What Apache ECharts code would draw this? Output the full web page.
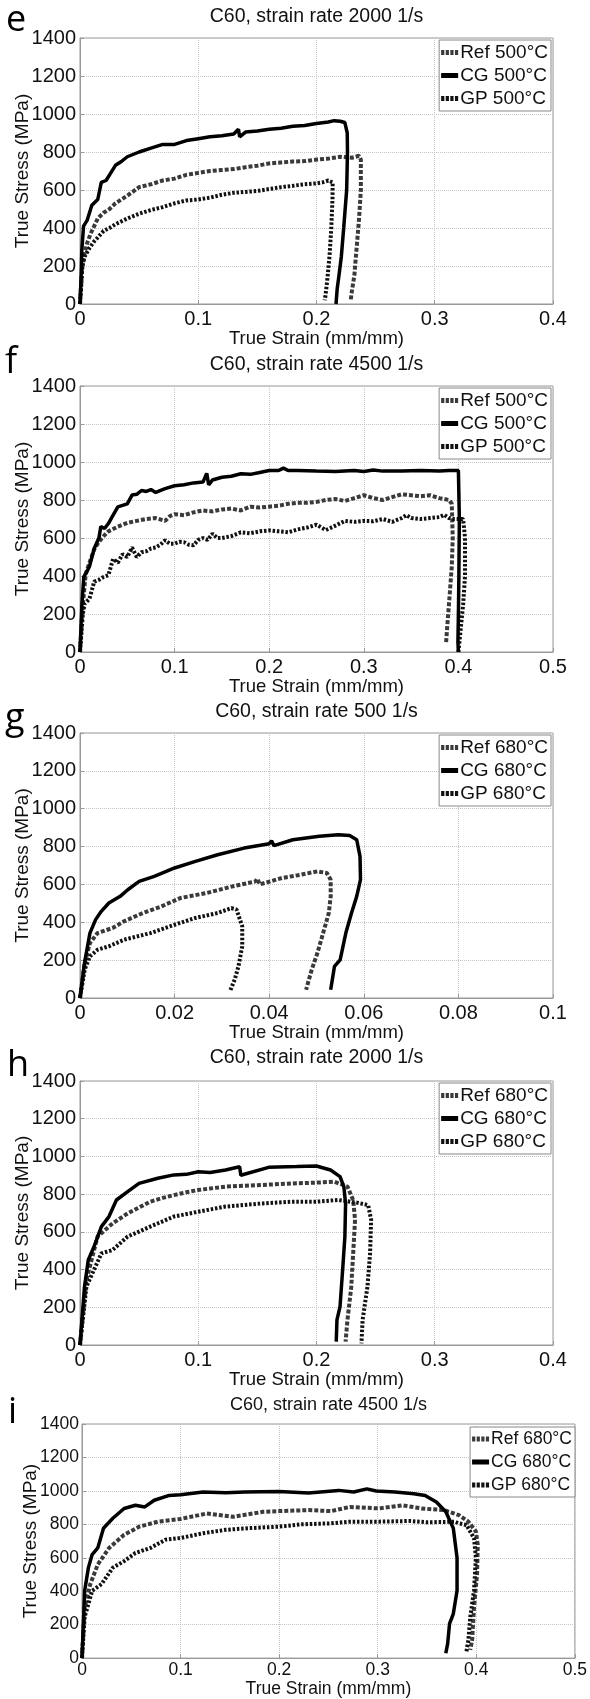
<!DOCTYPE html>
<html>
<head>
<meta charset="utf-8">
<script src="https://cdn.jsdelivr.net/npm/echarts@6/dist/echarts.min.js"></script>
<style>
html,body{margin:0;padding:0;background:#fff;}
#chart{width:590px;height:1699px;}
</style>
</head>
<body>
<div id="chart"></div>
<script>
// ---------- DATA ----------
const panelTitles = ['C60, strain rate 2000 1/s','C60, strain rate 4500 1/s','C60, strain rate 500 1/s','C60, strain rate 2000 1/s','C60, strain rate 4500 1/s'];
const panelLetters = ['e','f','g','h','i'];
const seriesNames500 = ['Ref 500°C','CG 500°C','GP 500°C'];
const seriesNames680 = ['Ref 680°C','CG 680°C','GP 680°C'];
const xMax = [0.4, 0.5, 0.1, 0.4, 0.5];
const xStep = [0.1, 0.1, 0.02, 0.1, 0.1];
const yTicks = [0, 200, 400, 600, 800, 1000, 1200, 1400];

// panel e : 500°C, 2000 1/s
const e_ref = [[0,0],[0.002,200],[0.004,270],[0.006,320],[0.009,370],[0.012,410],[0.015,450],[0.02,480],[0.025,500],[0.03,530],[0.04,570],[0.05,615],[0.06,630],[0.07,650],[0.08,660],[0.09,680],[0.1,690],[0.11,700],[0.12,705],[0.13,710],[0.14,720],[0.15,728],[0.16,740],[0.17,745],[0.18,750],[0.19,752],[0.2,760],[0.21,765],[0.22,775],[0.23,770],[0.236,780],[0.2375,760],[0.2375,600],[0.236,450],[0.234,300],[0.232,150],[0.2295,50],[0.229,20]];
const e_cg = [[0,0],[0.001,150],[0.0015,280],[0.003,410],[0.006,440],[0.01,520],[0.015,550],[0.018,640],[0.022,650],[0.025,680],[0.03,730],[0.035,750],[0.04,775],[0.05,800],[0.06,820],[0.07,840],[0.08,840],[0.09,860],[0.1,870],[0.11,880],[0.12,885],[0.13,895],[0.134,920],[0.135,880],[0.14,905],[0.15,910],[0.16,920],[0.17,925],[0.18,935],[0.19,940],[0.2,950],[0.21,958],[0.215,965],[0.22,962],[0.224,955],[0.226,900],[0.2262,800],[0.2255,600],[0.223,400],[0.221,250],[0.219,150],[0.2175,80],[0.2165,0]];
const e_gp = [[0,0],[0.002,200],[0.004,250],[0.008,295],[0.012,330],[0.015,350],[0.02,385],[0.025,400],[0.03,420],[0.04,450],[0.05,475],[0.06,495],[0.07,510],[0.08,530],[0.09,545],[0.1,550],[0.11,560],[0.12,575],[0.13,585],[0.14,590],[0.15,595],[0.16,605],[0.17,615],[0.18,622],[0.19,630],[0.2,635],[0.205,640],[0.21,650],[0.2137,640],[0.2135,550],[0.2125,400],[0.211,250],[0.209,120],[0.2075,40],[0.207,20]];

// panel f : 500°C, 4500 1/s
const f_ref = [[0,0],[0.003,250],[0.006,410],[0.01,470],[0.015,540],[0.02,580],[0.025,610],[0.03,635],[0.04,660],[0.05,680],[0.06,690],[0.07,700],[0.08,705],[0.09,690],[0.095,715],[0.1,725],[0.11,720],[0.12,735],[0.13,745],[0.14,740],[0.15,750],[0.16,755],[0.17,745],[0.18,765],[0.19,760],[0.2,765],[0.21,770],[0.22,780],[0.23,785],[0.24,785],[0.25,790],[0.26,800],[0.27,805],[0.28,795],[0.29,810],[0.3,825],[0.31,810],[0.32,800],[0.33,815],[0.34,830],[0.35,825],[0.36,820],[0.37,825],[0.38,810],[0.39,800],[0.393,780],[0.394,600],[0.393,450],[0.39,250],[0.388,120],[0.387,50]];
const f_cg = [[0,0],[0.002,250],[0.004,395],[0.008,430],[0.01,450],[0.015,545],[0.02,600],[0.022,660],[0.026,650],[0.03,676],[0.035,720],[0.04,764],[0.05,780],[0.055,826],[0.06,830],[0.065,850],[0.07,845],[0.075,855],[0.08,840],[0.09,860],[0.1,875],[0.11,880],[0.12,890],[0.13,895],[0.134,940],[0.136,880],[0.14,905],[0.15,920],[0.16,925],[0.17,938],[0.18,935],[0.19,945],[0.2,955],[0.21,955],[0.215,968],[0.22,955],[0.23,955],[0.25,952],[0.27,950],[0.29,955],[0.3,950],[0.31,958],[0.32,952],[0.34,953],[0.36,955],[0.38,952],[0.39,955],[0.4,955],[0.4005,950],[0.401,700],[0.4005,400],[0.4,200],[0.3995,50],[0.4,0]];
const f_gp = [[0,0],[0.003,200],[0.005,255],[0.01,280],[0.015,370],[0.02,380],[0.025,395],[0.03,404],[0.035,490],[0.04,470],[0.045,515],[0.05,500],[0.055,550],[0.06,500],[0.065,525],[0.07,530],[0.075,545],[0.08,550],[0.085,565],[0.09,588],[0.095,570],[0.1,570],[0.105,580],[0.11,578],[0.115,565],[0.12,562],[0.125,590],[0.13,600],[0.135,590],[0.14,623],[0.145,600],[0.15,600],[0.16,610],[0.17,630],[0.18,625],[0.19,635],[0.2,640],[0.21,635],[0.22,630],[0.23,645],[0.24,655],[0.25,670],[0.26,642],[0.27,665],[0.28,690],[0.29,685],[0.3,690],[0.31,688],[0.32,700],[0.33,685],[0.34,705],[0.345,720],[0.35,705],[0.36,700],[0.37,705],[0.38,710],[0.385,722],[0.39,705],[0.395,700],[0.405,700],[0.407,600],[0.407,400],[0.405,250],[0.402,100],[0.4,0]];

// panel g : 680°C, 500 1/s
const g_ref = [[0,0],[0.001,185],[0.0021,290],[0.0037,343],[0.0069,370],[0.0093,405],[0.0133,449],[0.0172,484],[0.0212,528],[0.0268,555],[0.0323,590],[0.0371,616],[0.0375,630],[0.038,600],[0.0427,634],[0.0466,651],[0.0502,669],[0.0522,660],[0.053,625],[0.053,537],[0.0526,449],[0.0514,343],[0.0502,238],[0.049,150],[0.0478,44]];
const g_cg = [[0,0],[0.00095,185],[0.0021,343],[0.0033,414],[0.0045,458],[0.0061,502],[0.0085,537],[0.0101,572],[0.0125,616],[0.0157,643],[0.02,687],[0.0244,722],[0.0291,757],[0.0347,792],[0.04,815],[0.0405,830],[0.041,805],[0.045,836],[0.0506,854],[0.0546,863],[0.057,858],[0.0585,836],[0.0592,748],[0.0593,625],[0.0585,537],[0.0574,449],[0.0562,343],[0.055,202],[0.0538,167],[0.053,44]];
const g_gp = [[0,0],[0.001,150],[0.0021,220],[0.0037,255],[0.0061,273],[0.0093,308],[0.0149,343],[0.02,387],[0.0244,423],[0.0291,449],[0.032,475],[0.0331,467],[0.0343,379],[0.0343,273],[0.0335,167],[0.0327,97],[0.0317,35]];

// panel h : 680°C, 2000 1/s
const h_ref = [[0,0],[0.0054,345],[0.0149,575],[0.0276,645],[0.0403,698],[0.0594,760],[0.07,780],[0.0794,795],[0.09,810],[0.1001,822],[0.11,830],[0.123,840],[0.14,845],[0.1547,849],[0.1801,857],[0.2,861],[0.215,866],[0.2262,840],[0.231,769],[0.2326,663],[0.231,486],[0.2294,309],[0.2262,133],[0.2246,18]];
const h_cg = [[0,0],[0.0038,309],[0.007,451],[0.0118,521],[0.0181,628],[0.0245,681],[0.0308,769],[0.0403,813],[0.0499,857],[0.0658,884],[0.0794,902],[0.09,905],[0.1001,919],[0.11,915],[0.123,928],[0.135,945],[0.136,900],[0.1595,942],[0.1833,946],[0.1999,949],[0.2119,928],[0.2199,893],[0.2231,840],[0.2246,751],[0.224,575],[0.2221,398],[0.2199,203],[0.2173,133],[0.2167,18]];
const h_gp = [[0,0],[0.0054,309],[0.0118,398],[0.0181,486],[0.0276,504],[0.0403,575],[0.0594,628],[0.0794,681],[0.1001,707],[0.123,734],[0.1547,751],[0.1801,760],[0.2,760],[0.2183,769],[0.2342,755],[0.2437,742],[0.2462,663],[0.2453,486],[0.2431,309],[0.239,133],[0.238,9]];

// panel i : 680°C, 4500 1/s
const i_ref = [[0,0],[0.0027,305],[0.0084,442],[0.016,560],[0.0275,659],[0.0427,737],[0.058,786],[0.0771,816],[0.1,832],[0.1267,865],[0.1534,845],[0.1839,875],[0.2,879],[0.2298,885],[0.2527,879],[0.2718,904],[0.3015,895],[0.3252,914],[0.3443,895],[0.3672,885],[0.3824,855],[0.392,816],[0.3996,757],[0.4015,678],[0.4008,501],[0.3977,305],[0.3958,108],[0.3939,49]];
const i_cg = [[0,0],[0.0027,403],[0.0065,541],[0.0103,619],[0.016,659],[0.0218,777],[0.0313,836],[0.0427,895],[0.0542,914],[0.0637,904],[0.0733,944],[0.0885,973],[0.1,977],[0.1229,993],[0.1458,989],[0.1649,993],[0.2,997],[0.2298,987],[0.2603,1003],[0.2756,993],[0.289,1012],[0.2985,999],[0.3176,993],[0.3366,983],[0.3481,973],[0.3595,934],[0.3691,875],[0.3767,777],[0.3805,600],[0.3805,403],[0.3767,265],[0.3729,206],[0.371,88],[0.3691,29]];
const i_gp = [[0,0],[0.0027,246],[0.0103,403],[0.0198,442],[0.0313,541],[0.0427,580],[0.0542,629],[0.0695,659],[0.0847,708],[0.1,718],[0.1229,747],[0.1458,767],[0.1687,777],[0.2,786],[0.2221,800],[0.2527,806],[0.2718,816],[0.3015,816],[0.3321,820],[0.3511,812],[0.3779,816],[0.3824,806],[0.39,796],[0.3977,718],[0.3996,600],[0.3977,403],[0.3939,246],[0.392,108],[0.39,39]];

// ---------- LAYOUT ----------
const panelData = [[e_ref,e_cg,e_gp],[f_ref,f_cg,f_gp],[g_ref,g_cg,g_gp],[h_ref,h_cg,h_gp],[i_ref,i_cg,i_gp]];
const panelNames = [seriesNames500, seriesNames500, seriesNames680, seriesNames680, seriesNames680];
const grids = [
  {left:80, top:38, width:473, height:266},
  {left:80, top:386, width:473, height:266},
  {left:80, top:733, width:473, height:265},
  {left:80, top:1081, width:473, height:264},
  {left:82, top:1424, width:493, height:238}
];
const titleY = [17, 365, 712, 1058, 1405];
const letterPos = [[6,21],[5,363],[5,719],[7,1066],[8,1413]];
const FONT = 'Liberation Sans';
const small = i => i === 4;

const dotIcon = 'path://M0,0h3.2v5h-3.2z M4.6,0h3.2v5h-3.2z M9.2,0h3.2v5h-3.2z M13.8,0h3.2v5h-3.2z';
const barIcon = 'path://M0,0h17v5h-17z';
const legendIcons = [dotIcon, barIcon, dotIcon];

const option = {
  backgroundColor: '#fff',
  animation: false,
  grid: grids.map(g => Object.assign({show:true, borderColor:'#999', borderWidth:1, backgroundColor:'transparent'}, g)),
  xAxis: grids.map((g, i) => ({
    gridIndex: i, type:'value', min:0, max:xMax[i], interval:xStep[i],
    name:'True Strain (mm/mm)', nameLocation:'middle', nameGap: small(i) ? 14 : 22,
    nameTextStyle:{fontFamily:FONT, fontSize: small(i) ? 17.5 : 18.5, color:'#111'},
    axisLine:{show:true, lineStyle:{color:'#999', width:1}},
    axisTick:{show:true, inside:true, length:4, lineStyle:{color:'#999'}},
    axisLabel:{fontFamily:FONT, fontSize: small(i) ? 17.5 : 20, color:'#111', margin: small(i) ? 3 : 5,
      formatter: v => String(+v.toFixed(3))},
    splitLine:{show:true, lineStyle:{type:'dotted', color:'#c4c4c4', width:1}}
  })),
  yAxis: grids.map((g, i) => ({
    gridIndex: i, type:'value', min:yTicks[0], max:yTicks[yTicks.length-1], interval:200,
    name:'True Stress (MPa)', nameLocation:'middle', nameGap: small(i) ? 42 : 48,
    nameMoveOverlap: false,
    nameTextStyle:{fontFamily:FONT, fontSize:19, color:'#111'},
    axisLine:{show:true, lineStyle:{color:'#999', width:1}},
    axisTick:{show:true, inside:true, length:4, lineStyle:{color:'#999'}},
    axisLabel:{fontFamily:FONT, fontSize: small(i) ? 17.5 : 20, color:'#111', margin: small(i) ? 3 : 4,
      formatter: v => String(v)},
    splitLine:{show:true, lineStyle:{type:'dotted', color:'#c4c4c4', width:1}}
  })),
  legend: grids.map((g, i) => ({
    data: panelNames[i].map((n, k) => ({name:n, icon:legendIcons[k]})),
    orient:'vertical',
    right: small(i) ? 15 : 39, top: g.top + (small(i) ? 3 : 2),
    itemWidth:17, itemHeight:5, itemGap: small(i) ? 5 : 4,
    textStyle:{fontFamily:FONT, fontSize: small(i) ? 17.5 : 19, color:'#111', padding:[0,0,0,-3]},
    borderColor:'#888', borderWidth:1, backgroundColor:'#fff', padding:[3,3,3,2],
    selectedMode:false
  })),
  graphic: [].concat(
    panelTitles.map((t, i) => ({
      type:'text', x: grids[i].left + grids[i].width/2, y: titleY[i], z: 10,
      style:{text:t, fontFamily:FONT, fontSize: small(i) ? 18 : 19.5, fill:'#111', align:'center', verticalAlign:'middle'}
    })),
    panelLetters.map((t, i) => ({
      type:'text', x: letterPos[i][0], y: letterPos[i][1], z: 10,
      style:{text:t, fontFamily:'Open Sans', fontSize:36, fill:'#000', align:'left', verticalAlign:'middle'}
    }))
  ),
  series: []
};

const styles = [
  {color:'#3a3a3a', width:4, type:[4,2]},
  {color:'#000', width:3.5, type:'solid'},
  {color:'#111', width:4, type:[2.5,1.8]}
];
panelData.forEach((arr, i) => {
  arr.forEach((d, k) => {
    option.series.push({
      type:'line', name: panelNames[i][k], xAxisIndex:i, yAxisIndex:i,
      data:d, showSymbol:false, symbol:'none', smooth:false,
      lineStyle:{color:styles[k].color, width:styles[k].width, type:styles[k].type},
      itemStyle:{color:styles[k].color}, z: k === 1 ? 3 : 2
    });
  });
});

const chart = echarts.init(document.getElementById('chart'), null, {renderer:'canvas'});
chart.setOption(option);
</script>
</body>
</html>
